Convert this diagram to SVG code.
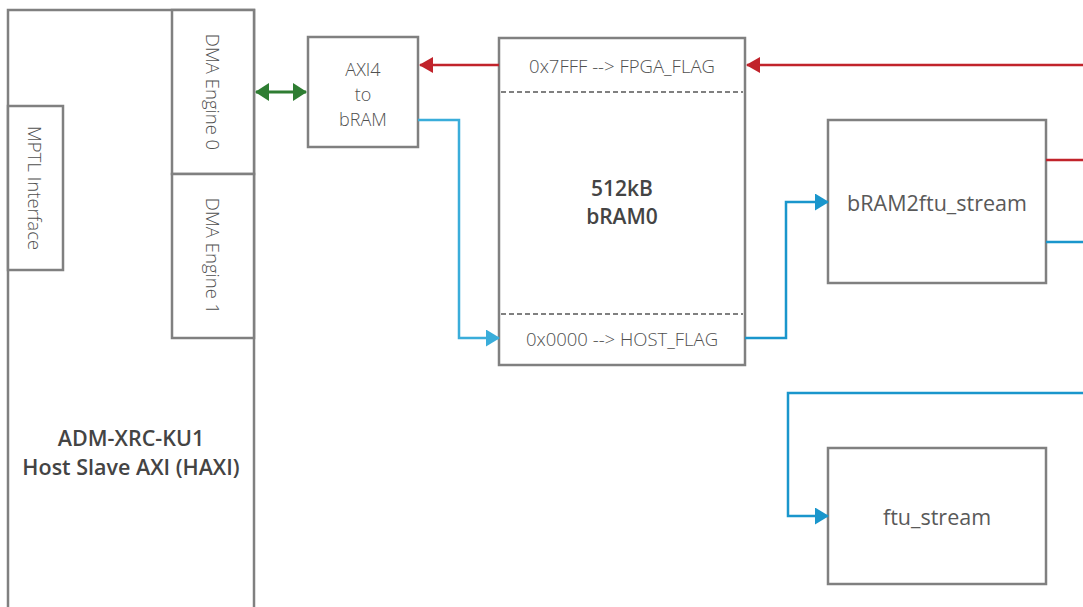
<svg xmlns="http://www.w3.org/2000/svg" width="1083" height="607" viewBox="0 0 1083 607">
<defs>
<style>
.box{fill:#fff;stroke:#808080;stroke-width:2.5}
.t{font-family:"Open Sans","Noto Sans","DejaVu Sans",sans-serif;fill:#595959;text-anchor:middle;dominant-baseline:central}
.l{font-weight:300;fill:#505050}
.b{font-weight:600;fill:#444}
.dash{stroke:#808080;stroke-width:2;stroke-dasharray:5,3;fill:none}
.red{stroke:#C1232B;stroke-width:2.5;fill:none}
.blue{stroke:#1A96CC;stroke-width:2.5;fill:none}
.lblue{stroke:#3AADDA;stroke-width:2.5;fill:none}
.green{stroke:#2E7D32;stroke-width:3;fill:none}
</style>
<marker id="ar" markerWidth="14" markerHeight="16" refX="13" refY="8" orient="auto" markerUnits="userSpaceOnUse" viewBox="0 0 14 16"><path d="M0,0 L14,8 L0,16 z" fill="#C1232B"/></marker>
<marker id="ab" markerWidth="14" markerHeight="17" refX="13" refY="8.5" orient="auto" markerUnits="userSpaceOnUse" viewBox="0 0 14 17"><path d="M0,0 L14,8.5 L0,17 z" fill="#1A96CC"/></marker>
<marker id="alb" markerWidth="14" markerHeight="17" refX="13" refY="8.5" orient="auto" markerUnits="userSpaceOnUse" viewBox="0 0 14 17"><path d="M0,0 L14,8.5 L0,17 z" fill="#3AADDA"/></marker>
<marker id="ag" markerWidth="14" markerHeight="18" refX="13" refY="9" orient="auto-start-reverse" markerUnits="userSpaceOnUse" viewBox="0 0 14 18"><path d="M0,0 L14,9 L0,18 z" fill="#2E7D32"/></marker>
</defs>
<rect width="1083" height="607" fill="#fff"/>
<g id="haxi">
<rect class="box" x="8" y="10" width="246" height="610"/>
<text class="t b" x="131" y="437" font-size="21.5">ADM-XRC-KU1</text>
<text class="t b" x="131" y="466" font-size="21.5">Host Slave AXI (HAXI)</text>
</g>
<g id="dma0">
<rect class="box" x="172" y="10" width="82" height="164"/>
<text class="t l" transform="translate(213,92) rotate(90)" font-size="18.5">DMA Engine 0</text>
</g>
<g id="dma1">
<rect class="box" x="172" y="174" width="82" height="164"/>
<text class="t l" transform="translate(213,256) rotate(90)" font-size="18.5">DMA Engine 1</text>
</g>
<g id="mptl">
<rect class="box" x="8" y="106" width="55" height="164"/>
<text class="t l" transform="translate(35,188) rotate(90)" font-size="18.5">MPTL Interface</text>
</g>
<g id="axi4">
<rect class="box" x="308" y="37" width="110" height="110"/>
<text class="t l" x="363" y="69" font-size="18">AXI4</text>
<text class="t l" x="363" y="94" font-size="18">to</text>
<text class="t l" x="363" y="119" font-size="18">bRAM</text>
</g>
<g id="bram0">
<rect class="box" x="499" y="38" width="246" height="327"/>
<line class="dash" x1="501" y1="92" x2="743" y2="92"/>
<line class="dash" x1="501" y1="314" x2="743" y2="314"/>
<text class="t l" x="622" y="65" font-size="18.5">0x7FFF --&gt; FPGA_FLAG</text>
<text class="t l" x="622" y="338" font-size="18.5">0x0000 --&gt; HOST_FLAG</text>
<text class="t b" x="622" y="188" font-size="21">512kB</text>
<text class="t b" x="622" y="216" font-size="21">bRAM0</text>
</g>
<g id="bram2ftu">
<rect class="box" x="828" y="120" width="218" height="163"/>
<text class="t" x="937" y="202" font-size="21.5">bRAM2ftu_stream</text>
</g>
<g id="ftu">
<rect class="box" x="828" y="448" width="218" height="136"/>
<text class="t" x="937" y="516" font-size="21.5">ftu_stream</text>
</g>
<g id="connectors">
<line class="green" x1="256" y1="92" x2="306" y2="92" marker-start="url(#ag)" marker-end="url(#ag)"/>
<line class="red" x1="1083" y1="65" x2="747" y2="65" marker-end="url(#ar)"/>
<line class="red" x1="499" y1="65" x2="420" y2="65" marker-end="url(#ar)"/>
<polyline class="lblue" points="418,120 459,120 459,338 499,338" marker-end="url(#alb)"/>
<polyline class="blue" points="745,338 786,338 786,202 828,202" marker-end="url(#ab)"/>
<line class="red" x1="1046" y1="160" x2="1083" y2="160"/>
<line class="blue" x1="1046" y1="242" x2="1083" y2="242"/>
<polyline class="blue" points="1083,393 788,393 788,516 828,516" marker-end="url(#ab)"/>
</g>
</svg>
